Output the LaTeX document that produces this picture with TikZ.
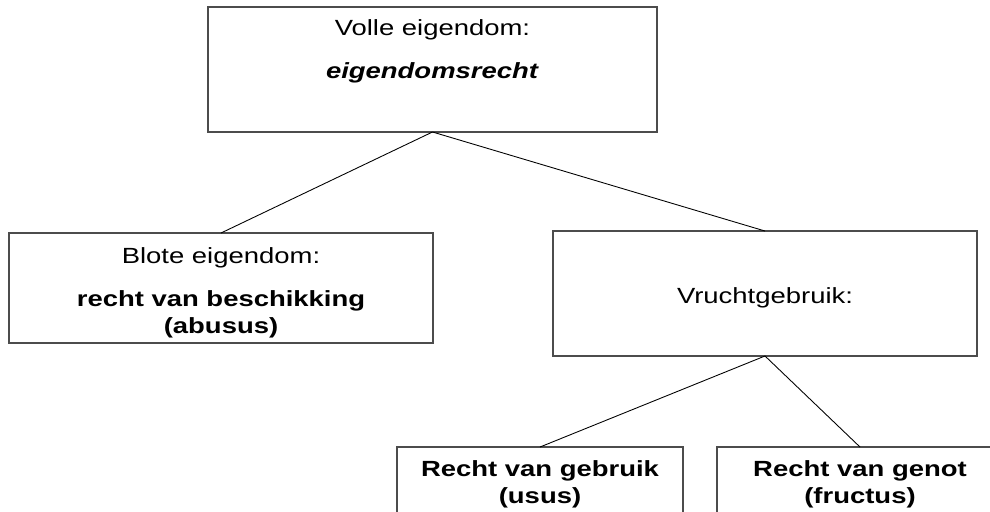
\documentclass[tikz,border=0pt]{standalone}
\usepackage{fontspec}
\setmainfont{Liberation Sans}[FakeStretch=1.25]
\usepackage{tikz}
\usetikzlibrary{positioning}

\begin{document}
\begin{tikzpicture}[x=0.02cm,y=-0.02cm,
  box/.style={draw=black!70, line width=0.8pt, inner sep=0pt, outer sep=0pt},
  txt/.style={anchor=base, align=center, inner sep=0pt, font=\fontsize{12.5}{15}\selectfont},
  tak/.style={draw=black, line width=0.5pt}]
\useasboundingbox (0,0) rectangle (990,511);
\clip (0,0) rectangle (990,511);

\node [box, minimum width=8.98cm, minimum height=2.5cm] (volle) at (432.5,69.5) {};
\node [box, minimum width=8.48cm, minimum height=2.2cm] (blote) at (221,288) {};
\node [box, minimum width=8.48cm, minimum height=2.5cm] (vrucht) at (765,293.5) {};
\node [box, minimum width=5.72cm, minimum height=1.52cm] (gebruik) at (540,485) {};
\node [box, minimum width=5.72cm, minimum height=1.52cm] (genot) at (860,485) {};

% base anchor = baseline of the last line
\node [txt] (vollelabel) at (432.5,78) {Volle eigendom:\\[0.32cm]\textbf{\textit{eigendomsrecht}}};
\node [txt] (blotelabel) at (221,333) {Blote eigendom:\\[0.33cm]\textbf{recht van beschikking}\\\textbf{(abusus)}};
\node [txt] (vruchtlabel) at (765,303) {Vruchtgebruik:};
\node [txt] (gebruiklabel) at (540,503) {\textbf{Recht van gebruik}\\\textbf{(usus)}};
\node [txt] (genotlabel) at (860,503) {\textbf{Recht van genot}\\\textbf{(fructus)}};

\draw [tak] (volle.south) -- (blote.north);
\draw [tak] (volle.south) -- (vrucht.north);
\draw [tak] (vrucht.south) -- (gebruik.north);
\draw [tak] (vrucht.south) -- (genot.north);
\end{tikzpicture}
\end{document}
